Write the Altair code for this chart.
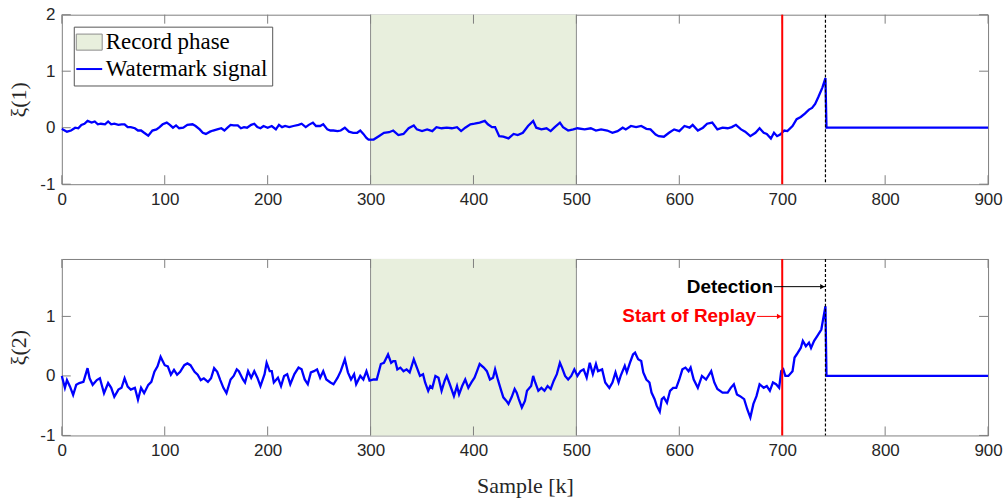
import altair as alt
import pandas as pd

# xi(1): watermark component 1, sample index and value
k1 = [0, 1, 5, 9, 13, 16, 19, 22, 25, 29, 32, 35, 38, 42, 45, 48, 51, 55, 58, 61,
      64, 67, 71, 74, 77, 80, 84, 88, 92, 95, 98, 102, 105, 108, 111, 114, 118, 122,
      127, 130, 134, 137, 140, 144, 147, 151, 155, 158, 161, 164, 167, 171, 174, 177,
      180, 184, 187, 190, 193, 196, 200, 204, 208, 211, 214, 217, 221, 225, 230, 233,
      237, 240, 244, 247, 251, 254, 258, 261, 264, 268, 271, 275, 279, 283, 287, 290,
      293, 296, 298, 303, 308, 313, 318, 322, 327, 332, 337, 342, 345, 350, 355, 360,
      364, 369, 374, 379, 384, 388, 392, 397, 401, 406, 411, 414, 418, 421, 425, 429,
      434, 439, 443, 448, 453, 458, 461, 466, 471, 475, 479, 484, 487, 492, 497, 501,
      508, 514, 519, 524, 530, 535, 540, 545, 548, 553, 558, 563, 568, 572, 577, 580,
      585, 590, 595, 600, 605, 610, 613, 618, 623, 627, 632, 637, 642, 647, 651, 655,
      660, 664, 669, 674, 678, 682, 685, 689, 692, 695, 698, 702, 705, 710, 714, 718,
      722, 726, 729, 732, 735, 739, 742, 743, 900]
xi1 = [-0.02, -0.03, -0.07, -0.05, 0.0, -0.01, 0.05, 0.07, 0.12, 0.09, 0.11, 0.06, 0.07,
       0.06, 0.11, 0.06, 0.07, 0.05, 0.06, 0.06, 0.01, 0.01, -0.01, -0.05, -0.05, -0.09,
       -0.14, -0.05, -0.03, 0.01, 0.06, 0.09, 0.05, 0.0, 0.04, -0.01, 0.0, 0.05, 0.06,
       0.03, -0.03, -0.09, -0.11, -0.07, -0.05, -0.03, -0.01, -0.05, 0.0, 0.05, 0.04,
       0.04, -0.01, 0.01, 0.0, 0.05, 0.07, 0.01, -0.01, 0.03, 0.0, 0.03, -0.03, 0.05,
       0.01, 0.03, 0.01, 0.03, 0.05, 0.07, 0.01, 0.05, 0.09, 0.03, 0.03, 0.06, -0.03,
       -0.05, -0.05, -0.06, -0.05, 0.0, -0.07, -0.09, -0.09, -0.05, -0.11, -0.18, -0.21,
       -0.21, -0.15, -0.09, -0.08, -0.05, -0.13, -0.11, -0.01, 0.04, -0.03, -0.06, -0.03,
       -0.06, 0.01, -0.01, 0.0, -0.01, 0.01, -0.06, 0.0, 0.06, 0.07, 0.09, 0.12, 0.06,
       0.01, 0.01, -0.15, -0.16, -0.19, -0.11, -0.13, -0.09, 0.03, 0.12, 0.0, -0.03,
       -0.01, -0.06, 0.01, 0.09, 0.01, -0.05, -0.03, -0.01, -0.03, -0.01, -0.05, -0.03,
       -0.05, -0.09, -0.06, 0.0, -0.03, 0.03, 0.01, 0.03, -0.02, -0.03, -0.12, -0.15,
       -0.16, -0.09, -0.03, -0.06, 0.03, 0.0, 0.05, -0.05, 0.0, 0.07, 0.09, -0.03, 0.0,
       -0.01, 0.01, 0.05, -0.03, -0.07, -0.15, -0.09, -0.01, -0.09, -0.11, -0.19, -0.09,
       -0.15, -0.12, -0.05, -0.06, 0.03, 0.15, 0.19, 0.25, 0.32, 0.35, 0.42, 0.54, 0.71,
       0.88, 0.0, 0.0]

# xi(2): watermark component 2, sample index and value
k2 = [0, 3, 5, 8, 11, 14, 17, 21, 25, 27, 30, 34, 37, 41, 45, 48, 51, 55, 58, 61, 64,
      67, 71, 74, 77, 80, 84, 87, 90, 93, 96, 100, 103, 106, 109, 112, 115, 119, 122,
      125, 129, 132, 135, 138, 142, 145, 148, 151, 154, 157, 160, 164, 167, 170, 172,
      176, 178, 181, 184, 187, 190, 193, 197, 199, 202, 204, 206, 210, 213, 216, 219,
      222, 226, 230, 233, 236, 239, 242, 245, 248, 251, 254, 257, 261, 264, 268, 271,
      275, 278, 281, 284, 286, 290, 293, 296, 299, 303, 306, 310, 313, 317, 320, 322,
      324, 326, 329, 332, 335, 338, 340, 342, 345, 348, 351, 353, 356, 358, 360, 363,
      366, 369, 372, 374, 377, 381, 384, 386, 389, 392, 395, 398, 401, 403, 406, 410,
      413, 416, 419, 421, 424, 427, 429, 432, 434, 437, 440, 442, 444, 447, 450, 452,
      456, 458, 460, 463, 466, 469, 472, 475, 478, 481, 484, 486, 489, 492, 495, 498,
      501, 504, 507, 510, 513, 516, 519, 521, 525, 528, 532, 535, 538, 541, 543, 547,
      549, 552, 555, 557, 560, 563, 565, 568, 571, 573, 576, 578, 581, 583, 585, 588,
      591, 594, 597, 600, 603, 606, 609, 611, 614, 618, 622, 626, 631, 634, 637, 642,
      647, 650, 653, 656, 659, 663, 666, 669, 672, 675, 678, 682, 685, 688, 691, 694,
      697, 699, 701, 703, 706, 710, 712, 714, 718, 720, 723, 726, 728, 731, 734, 738,
      740, 742, 743, 900]
xi2 = [0.0, -0.2, -0.07, -0.18, -0.32, -0.15, -0.12, -0.1, 0.13, -0.04, -0.15, -0.07,
       -0.04, -0.29, -0.12, -0.2, -0.35, -0.23, -0.2, -0.04, -0.18, -0.23, -0.2, -0.4,
       -0.2, -0.29, -0.15, -0.1, 0.07, 0.16, 0.32, 0.18, 0.16, 0.02, 0.1, 0.02, 0.07,
       0.18, 0.21, 0.18, 0.07, 0.02, -0.07, -0.04, -0.1, -0.04, 0.13, 0.07, -0.07, -0.2,
       -0.29, -0.06, 0.0, 0.11, 0.08, -0.06, -0.11, 0.08, -0.03, 0.08, -0.03, -0.17,
       0.03, 0.22, 0.08, 0.08, -0.11, -0.03, -0.17, 0.0, 0.03, -0.14, 0.03, 0.14, 0.11,
       -0.06, -0.14, 0.06, 0.08, 0.11, -0.03, 0.08, -0.06, -0.11, -0.14, -0.03, 0.08,
       0.28, 0.06, -0.06, 0.03, -0.14, 0.0, -0.06, 0.08, -0.08, -0.06, -0.06, 0.2, 0.22,
       0.36, 0.22, 0.25, 0.25, 0.11, 0.14, 0.08, 0.11, 0.06, 0.17, 0.28, 0.14, 0.0, 0.03,
       -0.11, -0.25, -0.17, -0.2, 0.0, -0.03, -0.25, -0.08, 0.0, -0.14, -0.34, -0.17,
       -0.31, -0.17, -0.06, -0.2, -0.11, -0.03, 0.06, 0.2, 0.14, 0.08, -0.06, -0.03,
       0.11, -0.08, -0.25, -0.36, -0.42, -0.47, -0.36, -0.22, -0.28, -0.39, -0.53,
       -0.42, -0.25, -0.17, 0.0, -0.11, -0.25, -0.2, -0.25, -0.17, -0.22, -0.08, 0.03,
       0.22, 0.14, 0.0, -0.06, 0.0, 0.11, 0.0, 0.08, 0.11, -0.03, 0.22, 0.03, 0.2, 0.08,
       0.11, -0.11, -0.2, -0.11, 0.06, -0.11, 0.0, 0.17, 0.06, 0.22, 0.36, 0.39, 0.28,
       0.25, 0.06, -0.06, -0.11, -0.28, -0.39, -0.5, -0.6, -0.39, -0.36, -0.45, -0.25,
       -0.2, -0.2, -0.06, 0.11, 0.14, 0.08, 0.14, -0.06, -0.2, 0.0, -0.06, 0.08, -0.11,
       -0.22, -0.28, -0.28, -0.2, -0.14, -0.31, -0.34, -0.39, -0.56, -0.7, -0.47, -0.34,
       -0.14, -0.2, -0.17, -0.25, -0.11, -0.14, -0.2, 0.08, 0.11, 0.0, 0.0, 0.08, 0.31,
       0.36, 0.47, 0.59, 0.5, 0.56, 0.47, 0.59, 0.67, 0.78, 0.98, 1.17, 0.0, 0.0]

# phases and events
record_start, record_end = 300, 500
replay_start = 700
detection = 742

# annotation arrows in the lower panel
ann_label = ["Detection", "Start of Replay"]
ann_x = [692, 675.5]
ann_x_end = [742, 700]
ann_y = [1.5, 1.0]
ann_color = ["#000000", "#ff0000"]

x_ticks = [0, 100, 200, 300, 400, 500, 600, 700, 800, 900]
y_ticks_top = [-1, 0, 1, 2]
y_ticks_bottom = [-1, 0, 1]

W = 929
FRAME = "#7f7f7f"
TXT = "#262626"
BLUE = "#0000ff"
GREEN = "#e8efdd"
TICK = 9

xs = alt.Scale(domain=[0, 900], nice=False, zero=False)


def panel(k, v, height, y_domain, y_ticks, y_title, x_title, legend, annotate):
    ys = alt.Scale(domain=y_domain, nice=False, zero=False)
    line_df = pd.DataFrame({"k": k, "v": v})

    x_axis = alt.Axis(values=x_ticks, labelExpr="'' + datum.value", ticks=False,
                      domain=False, grid=False, labelFlush=False,
                      labelFont="Liberation Sans", labelFontSize=17, labelColor=TXT,
                      labelPadding=7, title=x_title if x_title else "",
                      titleFont="Liberation Serif", titleFontSize=22,
                      titleFontWeight="normal", titleColor=TXT, titlePadding=17)
    y_axis = alt.Axis(values=y_ticks, labelExpr="'' + datum.value", ticks=False,
                      domain=False, grid=False, labelFlush=False,
                      labelFont="Liberation Sans", labelFontSize=17, labelColor=TXT,
                      labelPadding=7, title=y_title, titleFont="Liberation Serif",
                      titleFontSize=22, titleFontWeight="normal", titleColor=TXT,
                      titlePadding=9)

    def X(field):
        return alt.X(field, scale=xs, axis=x_axis)

    def Y(field):
        return alt.Y(field, scale=ys, axis=y_axis)

    sig = alt.Chart(line_df).mark_line(color=BLUE, strokeWidth=2.3).encode(
        x=X("k:Q"), y=Y("v:Q"))

    rec_df = pd.DataFrame({"start": [record_start], "end": [record_end],
                           "label": ["Record phase"]})
    rec = alt.Chart(rec_df).mark_rect()
    if legend:
        leg = alt.Legend(
            title=None, orient="none", legendX=12, legendY=12, labelLimit=0,
            fillColor="white", strokeColor="#555555", padding=4, rowPadding=3,
            labelFont="Liberation Serif", labelFontSize=23, labelColor="black",
            labelOffset=5, symbolSize=676,
            symbolType=alt.ExprRef(expr="datum.value == 'Record phase' ? 'M-1,-0.62H1V0.62H-1Z' : 'stroke'"),
            symbolStrokeColor=alt.ExprRef(expr="datum.value == 'Record phase' ? '#8c8c8c' : '#0000ff'"),
            symbolStrokeWidth=alt.ExprRef(expr="datum.value == 'Record phase' ? 1 : 2"),
        )
        rec = rec.encode(
            x=X("start:Q"), x2="end:Q", y=alt.value(0), y2=alt.value(height),
            fill=alt.Fill("label:N", legend=leg,
                          scale=alt.Scale(domain=["Record phase", "Watermark signal"],
                                          range=[GREEN, BLUE])),
        )
    else:
        rec = rec.encode(x=X("start:Q"), x2="end:Q", y=alt.value(0),
                         y2=alt.value(height), fill=alt.value(GREEN))

    edges = alt.Chart(pd.DataFrame({"x": [record_start, record_end]})).mark_rule(
        color="#8c8c8c", strokeWidth=1).encode(
        x=X("x:Q"), y=alt.value(0), y2=alt.value(height))

    replay = alt.Chart(pd.DataFrame({"x": [replay_start]})).mark_rule(
        color="#ff0000", strokeWidth=2).encode(
        x=X("x:Q"), y=alt.value(0), y2=alt.value(height))
    detect = alt.Chart(pd.DataFrame({"x": [detection]})).mark_rule(
        color="#000000", strokeWidth=1.2, strokeDash=[3, 2]).encode(
        x=X("x:Q"), y=alt.value(0), y2=alt.value(height))

    # inward-pointing ticks on all four sides of the box
    xt = alt.Chart(pd.DataFrame({"t": x_ticks}))
    yt = alt.Chart(pd.DataFrame({"t": y_ticks}))
    ticks = [
        xt.mark_rule(color=FRAME).encode(x=X("t:Q"), y=alt.value(height),
                                         y2=alt.value(height - TICK)),
        xt.mark_rule(color=FRAME).encode(x=X("t:Q"), y=alt.value(0), y2=alt.value(TICK)),
        yt.mark_rule(color=FRAME).encode(y=Y("t:Q"), x=alt.value(0), x2=alt.value(TICK)),
        yt.mark_rule(color=FRAME).encode(y=Y("t:Q"), x=alt.value(W - TICK),
                                         x2=alt.value(W)),
    ]

    layers = [rec, edges] + ticks + [sig, replay, detect]

    if annotate:
        ann_df = pd.DataFrame({"label": ann_label, "x": ann_x, "x_end": ann_x_end,
                               "y": ann_y, "c": ann_color})
        base = alt.Chart(ann_df)
        col = alt.Color("c:N", scale=None)
        layers += [
            base.mark_rule(strokeWidth=1).encode(
                x=X("x:Q"), x2="x_end:Q", y=Y("y:Q"), color=col),
            base.mark_point(shape="triangle-right", filled=True, size=28, opacity=1,
                            xOffset=-3).encode(x=X("x_end:Q"), y=Y("y:Q"), color=col),
            base.mark_text(align="right", baseline="middle", dx=-1, font="Liberation Sans",
                           fontSize=19, fontWeight="bold").encode(
                x=X("x:Q"), y=Y("y:Q"), text="label:N", color=col),
        ]

    return alt.layer(*layers).properties(width=W, height=height)


top = panel(k1, xi1, 170, [-1, 2], y_ticks_top, "ξ(1)", None, True, False)
bottom = panel(k2, xi2, 177, [-1, 1.965], y_ticks_bottom, "ξ(2)", "Sample [k]", False, True)

chart = alt.vconcat(top, bottom, spacing=49).properties(
    padding={"left": 7, "top": 4, "right": 5, "bottom": 0},
    background="white",
).configure_view(stroke=FRAME, strokeWidth=1)

chart.save("out.html", embed_options={"renderer": "svg", "actions": False})
